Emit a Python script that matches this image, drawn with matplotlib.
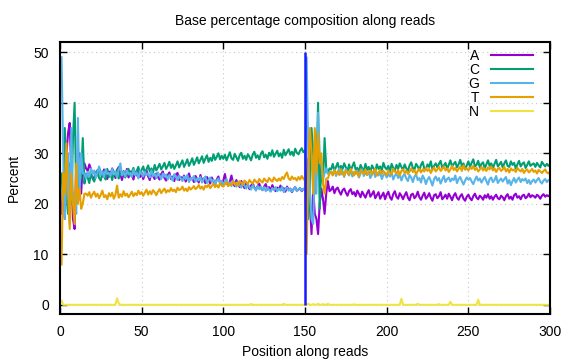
import numpy as np
import matplotlib
matplotlib.use("Agg")
from matplotlib import pyplot as plt

plt.rcParams['font.family'] = ['Liberation Sans', 'DejaVu Sans']

# percent of each base per position (1..300), read 1 = 1..150, read 2 = 151..300
pct_a = [
    18, 24, 17, 30, 34, 36, 26, 17, 15, 28,
    25, 30, 22, 28, 28, 27, 26.5, 27.8, 26.9, 25.2,
    24.8, 26.3, 25.6, 27.1, 26.0, 25.4, 26.8, 25.9, 24.9, 26.4,
    25.7, 27.0, 26.2, 25.1, 26.6, 27.3, 25.8, 24.7, 26.1, 25.5,
    26.9, 25.2, 26.4, 25.9, 24.8, 26.3, 25.6, 27.0, 25.3, 26.1,
    24.9, 25.8, 26.6, 25.4, 24.7, 26.2, 25.5, 24.9, 26.0, 25.3,
    24.8, 25.9, 26.4, 25.1, 24.6, 25.7, 26.2, 24.9, 25.4, 24.5,
    25.8, 26.1, 24.7, 25.3, 24.9, 25.6, 24.4, 25.2, 26.0, 24.8,
    25.1, 24.3, 25.5, 24.9, 24.2, 25.7, 24.6, 25.0, 24.1, 25.3,
    24.7, 24.0, 25.2, 24.5, 23.9, 24.8, 25.4, 24.2, 23.8, 24.6,
    25.9, 24.1, 23.6, 24.4, 25.6, 24.0, 23.5, 24.7, 23.9, 23.3,
    24.5, 23.7, 23.1, 24.2, 23.8, 22.9, 23.6, 24.1, 23.2, 22.8,
    23.5, 24.0, 23.1, 22.7, 23.4, 23.9, 22.8, 23.3, 22.6, 23.7,
    23.0, 22.5, 23.2, 22.9, 23.6, 22.7, 23.1, 22.4, 23.4, 22.8,
    23.0, 22.3, 22.9, 23.3, 22.6, 22.8, 23.1, 22.5, 22.9, 23.0,
    22, 29, 20, 14, 23, 18, 17, 14, 20, 23,
    21, 18, 22, 24.5, 22.5, 22.8, 23.4, 22.1, 22.9, 23.2,
    22.4, 21.8, 22.7, 23.0, 22.2, 21.6, 22.5, 22.9, 21.9, 22.3,
    21.5, 22.6, 22.0, 21.3, 22.4, 21.8, 21.2, 22.1, 22.7, 21.4,
    21.9, 22.5, 21.1, 21.7, 22.3, 21.0, 21.6, 22.2, 20.9, 21.8,
    22.4, 21.3, 20.8, 21.9, 22.5, 21.4, 21.0, 22.1, 21.6, 20.9,
    21.7, 22.3, 21.2, 20.7, 21.8, 22.0, 21.1, 21.5, 22.4, 21.3,
    20.8, 21.6, 22.2, 21.0, 21.4, 22.1, 21.2, 20.6, 21.7, 21.9,
    21.1, 21.5, 22.3, 20.9, 21.3, 21.8, 21.0, 22.0, 21.4, 20.7,
    21.6, 22.1, 21.2, 20.8, 21.5, 21.9, 21.0, 20.6, 21.4, 21.8,
    21.1, 20.7, 21.5, 22.0, 21.2, 20.9, 21.6, 21.3, 20.8, 21.7,
    21.2, 21.9, 21.0, 21.5, 20.8, 21.4, 21.8, 21.1, 20.9, 21.6,
    21.3, 20.7, 21.5, 21.9, 21.0, 21.4, 20.8, 21.7, 22.0, 21.2,
    21.5, 20.9, 21.6, 21.8, 21.1, 21.4, 22.0, 21.3, 21.7, 21.5,
    21.2, 21.8, 21.5, 21.0, 21.6, 21.9, 21.4, 21.7, 21.5, 21.8,
]

pct_c = [
    26, 20, 35, 22, 18, 28, 20, 33, 40, 22,
    21, 26, 25, 33, 24, 26, 25.2, 24.1, 26.3, 25.0,
    24.4, 25.8, 26.7, 25.1, 24.6, 26.2, 25.4, 24.8, 26.9, 25.3,
    25.9, 24.7, 26.4, 25.5, 26.8, 25.0, 26.1, 25.7, 26.5, 25.2,
    26.0, 26.9, 25.6, 26.3, 27.1, 25.8, 26.5, 27.3, 25.9, 26.7,
    27.4, 26.1, 26.8, 27.6, 26.4, 27.0, 26.2, 27.7, 26.6, 27.2,
    27.9, 26.8, 27.4, 28.1, 26.9, 27.5, 28.3, 27.1, 27.8, 26.9,
    27.6, 28.4, 27.2, 27.9, 28.6, 27.3, 28.0, 28.8, 27.5, 28.2,
    29.0, 27.7, 28.4, 29.2, 28.0, 28.7, 29.4, 28.1, 28.9, 29.6,
    28.3, 29.1, 28.5, 29.8, 28.7, 29.3, 30.0, 28.8, 29.5, 28.9,
    29.7, 28.6, 29.4, 30.2, 29.0, 28.7, 29.9, 29.2, 28.5, 29.6,
    30.1, 28.9, 29.5, 28.7, 29.8, 29.3, 28.6, 29.7, 30.3, 29.1,
    29.6, 28.8, 29.9, 30.4, 29.2, 29.7, 28.9, 30.1, 29.5, 30.6,
    29.3, 29.9, 30.5, 29.4, 30.0, 29.1, 30.7, 29.6, 30.2, 30.8,
    29.7, 30.3, 29.5, 30.9, 30.1, 29.8, 30.5, 31.0, 30.2, 30.6,
    20, 17, 24, 35, 30, 22, 26, 40, 19, 28,
    24, 33, 27, 26, 27, 26.8, 27.9, 26.5, 27.3, 28.1,
    26.7, 27.5, 26.9, 28.0, 27.2, 26.4, 27.8, 26.6, 27.4, 28.2,
    26.8, 27.1, 26.3, 27.7, 27.0, 26.5, 27.9, 26.7, 27.3, 26.2,
    27.6, 27.0, 26.4, 27.8, 26.9, 27.4, 26.6, 28.1, 27.2, 26.8,
    27.5, 26.3, 27.9, 27.1, 26.6, 27.7, 26.9, 28.0, 27.3, 26.7,
    27.8, 27.0, 26.5, 27.6, 28.2, 27.1, 26.8, 27.9, 27.4, 26.6,
    27.7, 28.3, 27.0, 26.9, 27.8, 27.3, 28.4, 26.8, 27.5, 28.0,
    27.2, 27.9, 28.5, 27.1, 27.6, 28.1, 26.9, 27.7, 28.6, 27.4,
    27.9, 28.3, 27.2, 27.8, 28.7, 27.5, 28.0, 26.8, 27.6, 28.4,
    27.3, 28.1, 28.8, 27.4, 27.7, 28.5, 27.2, 27.9, 28.2, 27.0,
    27.8, 28.6, 27.5, 28.0, 27.1, 27.9, 28.7, 27.4, 27.8, 28.3,
    27.2, 28.0, 28.6, 27.5, 27.3, 28.4, 27.7, 28.1, 27.0, 27.8,
    28.5, 27.4, 27.9, 28.2, 27.1, 27.7, 28.4, 27.5, 27.8, 28.0,
    27.3, 28.1, 27.6, 27.2, 28.3, 27.8, 27.4, 27.9, 27.5, 27.9,
]

pct_g = [
    49, 30, 17, 26, 30, 16, 35, 20, 22, 18,
    37, 22, 30, 26, 26, 25, 26.3, 25.4, 27.0, 25.8,
    26.6, 25.1, 26.2, 27.4, 25.7, 26.5, 25.3, 26.8, 25.9, 26.1,
    25.5, 26.9, 25.8, 26.4, 25.2, 26.7, 28.0, 25.6, 26.3, 25.4,
    26.6, 25.8, 26.1, 25.3, 26.8, 25.7, 26.2, 25.0, 26.5, 25.9,
    25.4, 26.3, 25.7, 26.0, 25.2, 26.6, 25.5, 25.9, 25.1, 26.2,
    25.6, 24.9, 26.0, 25.4, 25.8, 24.8, 25.7, 25.2, 24.6, 25.9,
    25.3, 24.7, 25.6, 25.0, 24.5, 25.4, 24.9, 25.7, 24.3, 25.1,
    24.8, 25.5, 24.4, 25.0, 24.6, 25.3, 24.2, 24.9, 25.4, 24.1,
    24.7, 25.2, 24.3, 24.8, 23.9, 24.6, 25.0, 24.0, 24.5, 23.8,
    24.4, 24.9, 23.7, 24.2, 23.5, 24.6, 24.0, 23.4, 24.3, 23.7,
    23.2, 24.1, 23.6, 23.0, 23.9, 23.3, 22.8, 23.7, 23.1, 22.6,
    23.5, 22.9, 23.4, 22.7, 23.3, 22.5, 23.2, 22.8, 22.4, 23.1,
    22.7, 23.3, 22.5, 23.0, 22.6, 23.4, 22.3, 22.9, 23.2, 22.6,
    23.0, 22.4, 22.8, 23.3, 22.5, 22.9, 23.1, 22.6, 23.0, 22.8,
    49, 30, 22, 17, 16, 28, 22, 38, 30, 28,
    25, 26, 27, 26, 26, 26.4, 25.7, 26.8, 25.5, 26.2,
    27.0, 25.8, 26.5, 25.3, 26.9, 26.1, 25.6, 26.7, 25.4, 26.3,
    25.9, 26.6, 25.2, 26.0, 26.8, 25.5, 26.2, 25.7, 26.4, 25.1,
    25.8, 26.5, 25.3, 26.1, 25.6, 26.3, 24.9, 25.7, 26.0, 25.2,
    25.9, 25.4, 26.2, 24.8, 25.6, 26.0, 25.1, 25.8, 24.6, 25.5,
    25.9, 25.0, 24.5, 25.7, 25.2, 24.3, 25.4, 25.8, 24.7, 25.1,
    24.2, 25.6, 25.0, 23.9, 24.8, 25.3, 24.5, 23.6, 24.9, 25.4,
    24.6, 25.1, 24.0, 24.8, 25.5, 24.3, 24.9, 25.2, 24.4, 25.0,
    24.7, 25.6, 24.1, 24.9, 25.3, 24.5, 23.8, 24.6, 25.2, 24.8,
    25.1, 24.4, 23.9, 24.7, 25.4, 24.6, 25.0, 24.2, 24.8, 25.3,
    24.5, 23.8, 24.9, 25.2, 24.3, 24.7, 25.5, 24.1, 24.6, 25.0,
    24.4, 24.9, 25.3, 24.0, 24.7, 23.7, 24.5, 25.1, 24.2, 24.8,
    25.2, 24.3, 24.9, 24.6, 25.0, 24.1, 24.7, 23.9, 24.5, 24.8,
    24.2, 24.7, 25.1, 24.4, 24.0, 24.6, 24.9, 24.3, 24.7, 24.5,
]

pct_t = [
    8, 26, 22, 32, 22, 15, 26, 20, 16, 28,
    20, 23, 19, 20, 22, 22, 21.6, 22.3, 21.2, 21.9,
    22.4, 21.4, 22.0, 21.1, 21.8, 22.6, 21.3, 21.7, 20.9, 22.1,
    21.5, 22.2, 21.0, 21.8, 23.6, 21.2, 21.9, 21.4, 22.5, 21.6,
    22.0, 21.3, 21.8, 22.4, 21.5, 22.1, 21.7, 22.6, 21.9, 22.3,
    21.6, 22.2, 22.8, 21.8, 22.5, 21.9, 22.7, 22.3, 21.7, 22.4,
    22.9, 22.1, 22.6, 23.0, 22.2, 22.7, 22.4, 23.1, 22.5, 22.8,
    22.3, 23.2, 22.7, 22.9, 23.4, 22.6, 23.0, 22.5, 23.3, 22.8,
    23.1, 23.5, 22.9, 23.2, 23.7, 23.0, 23.4, 22.8, 23.6, 23.3,
    23.8, 23.1, 23.5, 24.0, 23.3, 23.7, 23.2, 24.1, 23.6, 23.4,
    23.9, 24.3, 23.5, 24.0, 23.7, 24.4, 23.8, 24.2, 23.6, 24.5,
    24.1, 23.8, 24.6, 24.2, 23.9, 24.7, 24.3, 24.0, 24.8, 24.4,
    24.1, 24.9, 24.5, 24.2, 25.0, 24.6, 24.3, 25.1, 24.7, 24.4,
    25.2, 24.8, 24.5, 25.0, 24.6, 25.3, 24.9, 25.7, 26.2, 25.0,
    24.7, 25.4, 24.9, 25.1, 24.6, 25.3, 24.8, 25.5, 25.0, 24.6,
    10, 27, 35, 30, 22, 35, 26, 34, 28, 30,
    24, 22, 25, 25, 26, 26.3, 25.6, 26.7, 25.9, 26.4,
    25.7, 26.8, 26.0, 25.5, 26.6, 26.2, 25.8, 26.9, 26.1, 25.6,
    26.5, 26.0, 25.4, 26.7, 26.2, 25.9, 26.8, 25.7, 26.3, 26.6,
    25.8, 26.4, 26.9, 25.6, 26.2, 26.7, 25.9, 26.5, 26.1, 25.7,
    26.6, 26.2, 25.8, 26.9, 26.4, 26.0, 26.7, 25.6, 26.5, 26.8,
    26.1, 26.6, 25.9, 26.4, 27.0, 26.3, 26.7, 25.8, 26.5, 26.9,
    26.2, 26.8, 26.4, 27.1, 26.5, 26.9, 26.1, 26.7, 27.2, 26.4,
    26.8, 27.3, 26.5, 26.9, 27.4, 26.6, 27.0, 26.3, 26.8, 27.5,
    26.7, 27.1, 26.4, 26.9, 27.3, 26.5, 27.6, 26.8, 27.0, 26.6,
    27.2, 26.9, 27.5, 26.7, 27.1, 26.4, 26.8, 27.3, 26.6, 27.0,
    26.5, 27.2, 26.8, 27.4, 26.6, 27.0, 26.3, 26.9, 27.1, 26.5,
    26.8, 27.3, 26.4, 26.9, 26.2, 27.0, 26.6, 26.8, 26.3, 27.1,
    26.7, 26.4, 26.9, 26.1, 26.6, 26.8, 26.2, 26.5, 26.9, 26.3,
    26.6, 26.0, 26.7, 26.4, 26.1, 26.5, 26.8, 26.2, 26.0, 26.4,
]

# N is ~0 everywhere except a few positions
n_pos = [1, 35, 36, 117, 137, 152, 155, 158, 161, 164, 180, 209, 219, 232, 239, 256]
n_val = [0.8, 1.3, 0.3, 0.15, 0.2, 0.2, 0.15, 0.2, 0.15, 0.2, 0.1, 1.2, 0.2, 0.15, 0.6, 1.0]

read_boundary = 150

pos = np.arange(1, len(pct_a) + 1)
pct_n = np.zeros(len(pos))
pct_n[np.array(n_pos) - 1] = n_val

fig = plt.figure(figsize=(5.76, 3.6), dpi=100)
ax = fig.add_axes([0.104, 0.128, 0.851, 0.755])

colors = ['#9400d3', '#009e73', '#56b4e9', '#e69f00', '#f0e442']
series = [pct_a, pct_c, pct_g, pct_t, pct_n]
labels = ['A', 'C', 'G', 'T', 'N']
for y, c, lab in zip(series, colors, labels):
    ax.plot(pos, y, color=c, lw=1.5, label=lab)

ax.vlines(read_boundary, 0, 50, color='#1a1aff', lw=1.8, zorder=5)

ax.set_xlim(0, 300)
ax.set_ylim(-1.8, 52)
ax.set_xticks(range(0, 301, 50))
ax.set_yticks(range(0, 51, 10))
ax.grid(True, color='#c8c8c8', ls=(0, (1, 3)), lw=0.8)
ax.tick_params(direction='in', top=True, right=True, length=5, width=1,
               labelsize=10, pad=8)
for s in ax.spines.values():
    s.set_linewidth(1.5)

ax.set_title('Base percentage composition along reads', fontsize=10, pad=12)
ax.set_xlabel('Position along reads', fontsize=10, labelpad=4)
ax.set_ylabel('Percent', fontsize=10, labelpad=9)

ax.legend(loc='upper right', bbox_to_anchor=(0.985, 1.012), frameon=False,
          markerfirst=False, handlelength=3.0, handletextpad=0.9,
          labelspacing=0.0, fontsize=10, borderaxespad=0.3)

fig.savefig('out.png', dpi=100)
